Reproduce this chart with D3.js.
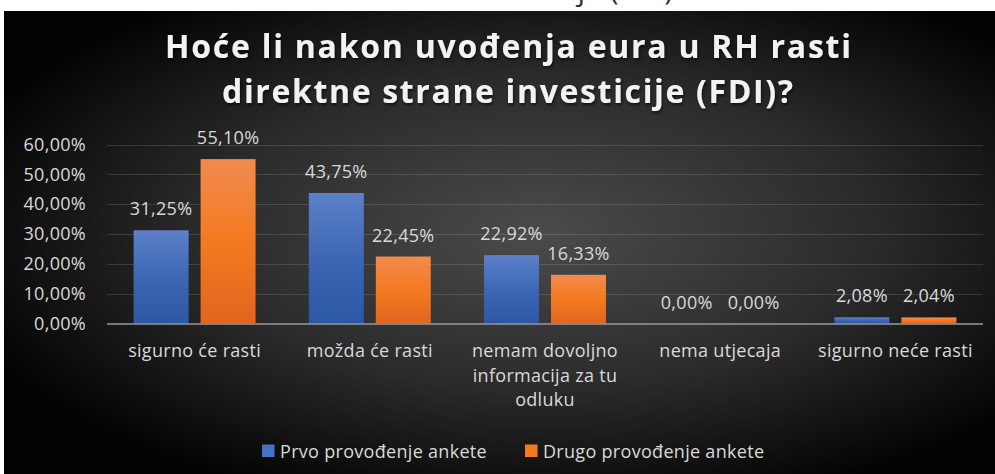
<!DOCTYPE html>
<html><head><meta charset="utf-8">
<script src="https://cdn.jsdelivr.net/npm/d3@7/dist/d3.min.js"></script>
<style>html,body{margin:0;padding:0;background:#fff;}svg{display:block;}</style>
</head><body>
<script>
const categories = [["sigurno će rasti"], ["možda će rasti"], ["nemam dovoljno", "informacija za tu", "odluku"], ["nema utjecaja"], ["sigurno neće rasti"]];
const seriesNames = ["Prvo provođenje ankete", "Drugo provođenje ankete"];
const prvo = [31.25, 43.75, 22.92, 0.00, 2.08];
const drugo = [55.10, 22.45, 16.33, 0.00, 2.04];
const yTicks = [0, 10, 20, 30, 40, 50, 60];
const titleLines = ["Hoće li nakon uvođenja eura u RH rasti", "direktne strane investicije (FDI)?"];

const W = 995, H = 474;
const fmt = v => v.toFixed(2).replace(".", ",") + "%";
const FONT = "'Open Sans', sans-serif";
const svg = d3.select("body").append("svg").attr("width", W).attr("height", H);
const defs = svg.append("defs");

const bg = defs.append("radialGradient").attr("id", "bg").attr("cx", 0.54).attr("cy", 0.48).attr("r", 0.62);
bg.append("stop").attr("offset", "0%").attr("stop-color", "#4b4b4b");
bg.append("stop").attr("offset", "55%").attr("stop-color", "#2a2a2a");
bg.append("stop").attr("offset", "100%").attr("stop-color", "#020202");

const gBlue = defs.append("linearGradient").attr("id", "gBlue").attr("x1", 0).attr("y1", 0).attr("x2", 0).attr("y2", 1);
gBlue.append("stop").attr("offset", "0%").attr("stop-color", "#5d80c8");
gBlue.append("stop").attr("offset", "50%").attr("stop-color", "#3d67b5");
gBlue.append("stop").attr("offset", "100%").attr("stop-color", "#2c57a5");
const gOr = defs.append("linearGradient").attr("id", "gOr").attr("x1", 0).attr("y1", 0).attr("x2", 0).attr("y2", 1);
gOr.append("stop").attr("offset", "0%").attr("stop-color", "#f08b4f");
gOr.append("stop").attr("offset", "50%").attr("stop-color", "#f47a20");
gOr.append("stop").attr("offset", "100%").attr("stop-color", "#e0661f");
const fills = ["url(#gBlue)", "url(#gOr)"];
const swatch = ["#4472c4", "#f47a22"];

const sh = defs.append("filter").attr("id", "tsh").attr("x", "-5%").attr("y", "-20%").attr("width", "110%").attr("height", "150%");
sh.append("feDropShadow").attr("dx", 1).attr("dy", 2).attr("stdDeviation", 1.5).attr("flood-color", "#000").attr("flood-opacity", 0.6);

defs.append("clipPath").attr("id", "topclip").append("rect").attr("x", 0).attr("y", 0).attr("width", W).attr("height", 11);

// cut-off document text above the chart (only its descenders show)
svg.append("g").attr("clip-path", "url(#topclip)").append("text")
  .attr("x", 673).attr("y", 0).attr("text-anchor", "end")
  .attr("font-family", FONT).attr("font-size", 30).attr("fill", "#333")
  .text("investicije (FDI)");

svg.append("rect").attr("x", 4).attr("y", 11).attr("width", W - 4).attr("height", H - 11).attr("fill", "url(#bg)");

// title
const titleTargets = [[165, 851, 58], [222, 793, 103]];
titleLines.forEach((t, i) => {
  const [x0, x1, yb] = titleTargets[i];
  const tx = svg.append("text").attr("x", (x0 + x1) / 2).attr("y", yb).attr("text-anchor", "middle")
    .attr("font-family", FONT).attr("font-weight", 700).attr("font-size", 32)
    .attr("fill", "#f2f2f2").attr("filter", "url(#tsh)").text(t);
  const nat = tx.node().getComputedTextLength();
  const ls = ((x1 - x0) - nat) / (t.length - 1);
  tx.attr("letter-spacing", ls);
  tx.attr("x", (x0 + x1) / 2 + ls / 2);
});

const plotL = 107, plotR = 983;
const y = d3.scaleLinear().domain([0, 60]).range([323.5, 144.5]);
const x0 = d3.scaleBand().domain(d3.range(categories.length)).range([plotL, plotR]).paddingInner(0.304).paddingOuter(0.152);
const x1 = d3.scaleBand().domain([0, 1]).range([0, x0.bandwidth()]).paddingInner(0.179).paddingOuter(0);

const txtColor = "#d9d9d9";
const LS = 0.3;
const FS = 18;

// gridlines
svg.append("g").selectAll("line").data(yTicks.filter(d => d > 0)).join("line")
  .attr("x1", plotL).attr("x2", plotR).attr("y1", d => Math.round(y(d)) + 0.5).attr("y2", d => Math.round(y(d)) + 0.5)
  .attr("stroke", "rgba(255,255,255,0.13)").attr("stroke-width", 1);

// y axis
const yAxis = d3.axisLeft(y).tickValues(yTicks).tickFormat(d => d.toFixed(2).replace(".", ",") + "%").tickSize(0).tickPadding(0);
const ya = svg.append("g").attr("transform", "translate(86,0)").call(yAxis);
ya.select(".domain").remove();
ya.selectAll("text").attr("font-family", FONT).attr("font-size", FS).attr("fill", txtColor).attr("letter-spacing", LS);

// bars
const series = [prvo, drugo];
series.forEach((vals, s) => {
  const g = svg.append("g");
  g.selectAll("rect").data(vals).join("rect")
    .attr("x", (d, i) => x0(i) + x1(s)).attr("width", x1.bandwidth())
    .attr("y", d => y(d)).attr("height", d => y(0) - y(d))
    .attr("fill", fills[s]);
  g.selectAll("text").data(vals).join("text")
    .attr("x", (d, i) => x0(i) + x1(s) + x1.bandwidth() / 2)
    .attr("y", d => y(d) - 15)
    .attr("text-anchor", "middle").attr("font-family", FONT).attr("font-size", FS)
    .attr("fill", txtColor).attr("letter-spacing", LS).text(d => fmt(d));
});

// x axis baseline
svg.append("line").attr("x1", plotL).attr("x2", plotR).attr("y1", y(0) + 0.5).attr("y2", y(0) + 0.5)
  .attr("stroke", "#9a9a9a").attr("stroke-width", 1.5);

// category labels
const cg = svg.append("g");
categories.forEach((lines, i) => {
  const t = cg.append("text").attr("text-anchor", "middle").attr("font-family", FONT).attr("font-size", FS)
    .attr("fill", txtColor).attr("letter-spacing", LS);
  lines.forEach((ln, j) => {
    t.append("tspan").attr("x", x0(i) + x0.bandwidth() / 2).attr("y", 357 + j * 24.5).text(ln);
  });
});

// legend
const lg = svg.append("g");
const legX = [262, 525];
seriesNames.forEach((n, i) => {
  lg.append("rect").attr("x", legX[i]).attr("y", 444.5).attr("width", 12.5).attr("height", 12.5).attr("fill", swatch[i]);
  lg.append("text").attr("x", legX[i] + 18).attr("y", 457.5).attr("font-family", FONT).attr("font-size", FS)
    .attr("fill", txtColor).attr("letter-spacing", LS).text(n);
});
</script>
</body></html>
